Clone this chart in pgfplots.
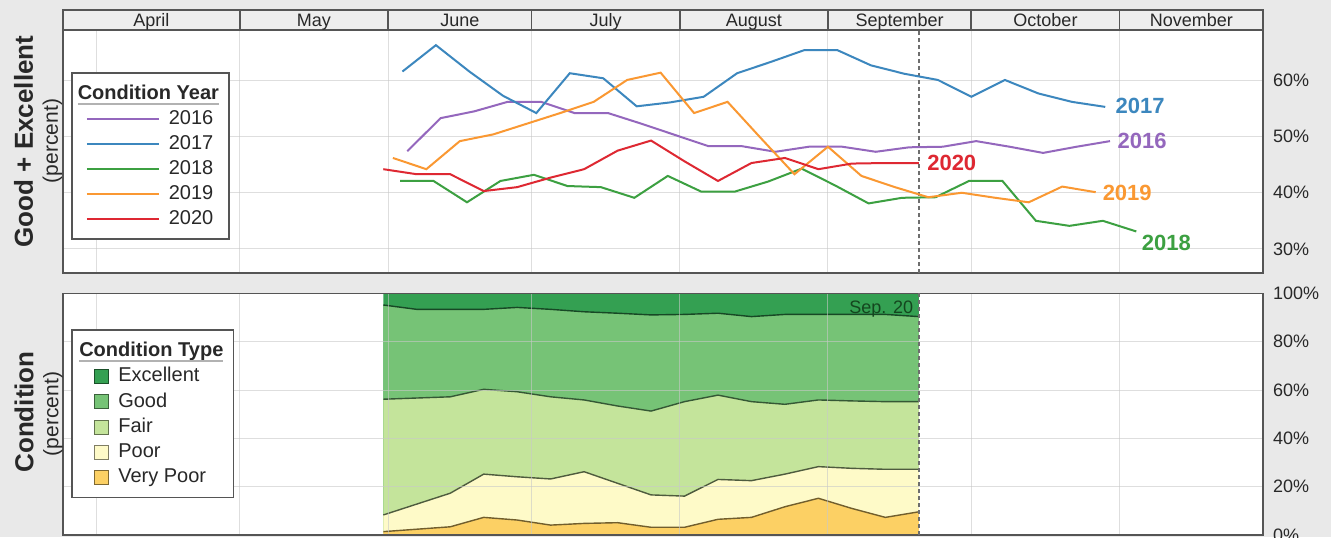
\documentclass[border=0pt]{standalone}
\usepackage{pgfplots}
\pgfplotsset{compat=1.18}
\usepackage{pgfplotstable}
\usepackage{fontspec}
\setmainfont{Liberation Sans}
\usetikzlibrary{calc}

\definecolor{bg}{RGB}{233,233,233}
\definecolor{hdr}{RGB}{238,238,238}
\definecolor{frame}{RGB}{85,85,85}
\definecolor{txt}{RGB}{40,40,40}
\definecolor{c16}{RGB}{148,103,189}
\definecolor{c17}{RGB}{60,135,190}
\definecolor{c18}{RGB}{60,160,65}
\definecolor{c19}{RGB}{250,152,50}
\definecolor{c20}{RGB}{222,40,50}
\definecolor{cex}{RGB}{52,160,82}
\definecolor{cgo}{RGB}{118,195,118}
\definecolor{cfa}{RGB}{196,228,155}
\definecolor{cpo}{RGB}{254,250,200}
\definecolor{cvp}{RGB}{252,208,100}
\definecolor{sepc}{RGB}{20,70,30}

\pgfplotstableread{
d vp po fa go ex
60 1.4 8.3 56.2 95.2 100
67 2.4 12.8 56.7 93.4 100
74 3.4 17.3 57.2 93.4 100
81 7.3 25.2 60.3 93.4 100
88 6.2 24.1 59.3 94.2 100
95 4.1 23.2 57.2 93.4 100
102 4.8 26.2 55.9 92.4 100
109 5.1 21.4 53.4 91.8 100
116 3.2 16.6 51.3 91.1 100
123 3.2 16.1 55.2 91.3 100
130 6.5 23.0 57.9 91.8 100
137 7.3 22.5 55.2 90.4 100
144 11.7 25.2 54.1 91.3 100
151 15.2 28.3 55.9 91.3 100
158 11.0 27.6 55.5 91.3 100
165 7.3 27.2 55.2 91.3 100
172 9.6 27.2 55.2 90.4 100
}\condtab

\pgfplotsset{
  myaxis/.style={
    scale only axis, width=600pt,
    xmin=-7, xmax=244,
    axis line style={draw=frame, line width=0.9pt},
    axis background/.style={fill=white},
    xtick={0,30,61,91,122,153,183,214}, xticklabels={},
    xmajorgrids, ymajorgrids,
    major grid style={color={rgb,255:red,200;green,200;blue,200}, line width=0.5pt, opacity=0.6},
    tick style={draw=none},
    yticklabel pos=right,
    yticklabel style={font=\fontsize{9}{10}\selectfont, text=txt, xshift=1.5pt},
    extra x ticks={172}, extra x tick labels={},
    extra x tick style={grid=major, major grid style={dash pattern=on 2pt off 1.5pt, color={rgb,255:red,110;green,110;blue,110}, line width=0.8pt, opacity=1}},
    legend style={draw=frame, line width=0.8pt, fill=white, font=\fontsize{10}{12}\selectfont, text=txt, inner ysep=4pt},
    legend cell align=left,
  }
}

\begin{document}
\begin{tikzpicture}
\fill[bg] (0,0) rectangle (665.5pt,268.5pt);

% ---------- top panel ----------
\begin{axis}[myaxis, name=top, at={(31.5pt,132pt)}, anchor=south west,
  height=121.5pt, ymin=25.7, ymax=69,
  ytick={30,40,50,60}, yticklabels={30\%,40\%,50\%,60\%},
  legend style={at={(0.00667,0.827)}, anchor=north west},
  legend image code/.code={\draw[#1] (4.5pt,0pt) -- (40.5pt,0pt); \path (43pt,0pt);},
]
\addplot[c16, line width=1pt, forget plot] coordinates {
(65,47.4) (72,53.3) (79,54.5) (86,56.2) (93,56.2) (100,54.2) (107,54.2) (114,52.3) (121,50.3) (128,48.3) (135,48.3) (142,47.3) (149,48.2) (156,48.2) (163,47.3) (170,48.1) (177,48.2) (184,49.2) (191,48.2) (198,47.1) (205,48.2) (212,49.2)};
\addplot[c17, line width=1pt, forget plot] coordinates {
(64,61.6) (71,66.3) (78,61.6) (85,57.3) (92,54.2) (99,61.3) (106,60.4) (113,55.4) (120,56.1) (127,57.1) (134,61.3) (141,63.3) (148,65.4) (155,65.4) (162,62.7) (169,61.2) (176,60.1) (183,57.1) (190,60.1) (197,57.7) (204,56.2) (211,55.3)};
\addplot[c18, line width=1pt, forget plot] coordinates {
(63.5,42.1) (70.5,42.1) (77.5,38.3) (84.5,42.1) (91.5,43.2) (98.5,41.2) (105.5,41.0) (112.5,39.1) (119.5,43.0) (126.5,40.2) (133.5,40.2) (140.5,42.0) (147.5,44.3) (154.5,41.3) (161.5,38.1) (168.5,39.1) (175.5,39.2) (182.5,42.1) (189.5,42.1) (196.5,35.0) (203.5,34.1) (210.5,35.0) (217.5,33.1)};
\addplot[c19, line width=1pt, forget plot] coordinates {
(62,46.2) (69,44.2) (76,49.2) (83,50.4) (90,52.3) (97,54.2) (104,56.2) (111,60.1) (118,61.4) (125,54.2) (132,56.2) (139,49.7) (146,43.3) (153,48.2) (160,43.0) (167,41.0) (174,39.2) (181,40.0) (188,39.1) (195,38.3) (202,41.1) (209,40.1)};
\addplot[c20, line width=1pt, forget plot] coordinates {
(60,44.2) (67,43.3) (74,43.3) (81,40.3) (88,41.0) (95,42.7) (102,44.2) (109,47.5) (116,49.3) (123,45.6) (130,42.1) (137,45.3) (144,46.2) (151,44.2) (158,45.2) (165,45.3) (172,45.3)};

\addlegendimage{empty legend}
\addlegendentry{\hspace*{-45.5pt}\sbox0{\bfseries Condition Year}\usebox0\llap{\color{gray!60}\rule[-2.6pt]{\wd0}{0.6pt}}}
\addlegendimage{c16, line width=1pt}\addlegendentry{2016}
\addlegendimage{c17, line width=1pt}\addlegendentry{2017}
\addlegendimage{c18, line width=1pt}\addlegendentry{2018}
\addlegendimage{c19, line width=1pt}\addlegendentry{2019}
\addlegendimage{c20, line width=1pt}\addlegendentry{2020}

\node[anchor=west, font=\fontsize{11}{12}\bfseries, text=c17] at (axis cs:211.7,55.5) {2017};
\node[anchor=west, font=\fontsize{11}{12}\bfseries, text=c16] at (axis cs:212.1,49.3) {2016};
\node[anchor=west, font=\fontsize{11}{12}\bfseries, text=c20] at (axis cs:172.3,45.4) {2020};
\node[anchor=west, font=\fontsize{11}{12}\bfseries, text=c19] at (axis cs:209,39.9) {2019};
\node[anchor=west, font=\fontsize{11}{12}\bfseries, text=c18] at (axis cs:217.2,31.0) {2018};
\end{axis}

% ---------- month header ----------
\begin{axis}[scale only axis, width=600pt, height=10pt,
  at={(top.north west)}, anchor=south west,
  xmin=-7, xmax=244, ymin=0, ymax=1,
  axis line style={draw=frame, line width=0.9pt},
  axis background/.style={fill=hdr},
  xtick={30,61,91,122,153,183,214}, xticklabels={}, ytick=\empty,
  xmajorgrids, major grid style={draw=frame, line width=0.9pt},
  tick style={draw=none},
]
\node[anchor=base, font=\fontsize{9}{10}\selectfont, text=txt] at (axis cs:11.5,0.19) {April};
\node[anchor=base, font=\fontsize{9}{10}\selectfont, text=txt] at (axis cs:45.5,0.19) {May};
\node[anchor=base, font=\fontsize{9}{10}\selectfont, text=txt] at (axis cs:76,0.19) {June};
\node[anchor=base, font=\fontsize{9}{10}\selectfont, text=txt] at (axis cs:106.5,0.19) {July};
\node[anchor=base, font=\fontsize{9}{10}\selectfont, text=txt] at (axis cs:137.5,0.19) {August};
\node[anchor=base, font=\fontsize{9}{10}\selectfont, text=txt] at (axis cs:168,0.19) {September};
\node[anchor=base, font=\fontsize{9}{10}\selectfont, text=txt] at (axis cs:198.5,0.19) {October};
\node[anchor=base, font=\fontsize{9}{10}\selectfont, text=txt] at (axis cs:229,0.19) {November};
\end{axis}

% ---------- bottom panel ----------
\begin{axis}[myaxis, name=bot, at={(31.5pt,1pt)}, anchor=south west,
  height=120.8pt, ymin=0, ymax=100,
  ytick={0,20,40,60,80,100}, yticklabels={0\%,20\%,40\%,60\%,80\%,100\%},
  axis on top,
  legend style={at={(0.00667,0.852)}, anchor=north west},
  legend image code/.code={\draw[#1] (8.5pt,-3.5pt) rectangle (15.5pt,3.5pt); \path (18pt,0pt);},
]
\addplot[fill=cex, draw=none, forget plot] table[x=d,y=ex] {\condtab} \closedcycle;
\addplot[fill=cgo, draw=none, forget plot] table[x=d,y=go] {\condtab} \closedcycle;
\addplot[fill=cfa, draw=none, forget plot] table[x=d,y=fa] {\condtab} \closedcycle;
\addplot[fill=cpo, draw=none, forget plot] table[x=d,y=po] {\condtab} \closedcycle;
\addplot[fill=cvp, draw=none, forget plot] table[x=d,y=vp] {\condtab} \closedcycle;
\addplot[draw=cex!45!black, line width=0.7pt, forget plot] table[x=d,y=go] {\condtab};
\addplot[draw=cgo!45!black, line width=0.7pt, forget plot] table[x=d,y=fa] {\condtab};
\addplot[draw=cfa!40!black, line width=0.7pt, forget plot] table[x=d,y=po] {\condtab};
\addplot[draw=cvp!45!black, line width=0.7pt, forget plot] table[x=d,y=vp] {\condtab};

\addlegendimage{empty legend}
\addlegendentry{\hspace*{-19.5pt}\sbox0{\bfseries Condition Type}\usebox0\llap{\color{gray!60}\rule[-2.6pt]{\wd0}{0.6pt}}}
\addlegendimage{fill=cex, draw=cex!50!black, line width=0.5pt}\addlegendentry{Excellent}
\addlegendimage{fill=cgo, draw=cgo!50!black, line width=0.5pt}\addlegendentry{Good}
\addlegendimage{fill=cfa, draw=cfa!50!black, line width=0.5pt}\addlegendentry{Fair}
\addlegendimage{fill=cpo, draw=cpo!50!black, line width=0.5pt}\addlegendentry{Poor}
\addlegendimage{fill=cvp, draw=cvp!50!black, line width=0.5pt}\addlegendentry{Very Poor}

\node[anchor=north east, font=\fontsize{9}{10}\selectfont, text=sepc] at (axis cs:172.3,100) {Sep. 20};
\end{axis}

% ---------- y labels ----------
\node[rotate=90, font=\fontsize{13}{14}\bfseries, text=txt] at (11.75pt,197.75pt) {Good + Excellent};
\node[rotate=90, font=\fontsize{10.5}{12}\selectfont, text=txt] at (26.25pt,198pt) {(percent)};
\node[rotate=90, font=\fontsize{13}{14}\bfseries, text=txt] at (12pt,62.5pt) {Condition};
\node[rotate=90, font=\fontsize{10.5}{12}\selectfont, text=txt] at (26.5pt,61.5pt) {(percent)};

\pgfresetboundingbox
\useasboundingbox (0,0) rectangle (665.5pt,268.5pt);
\end{tikzpicture}
\end{document}
